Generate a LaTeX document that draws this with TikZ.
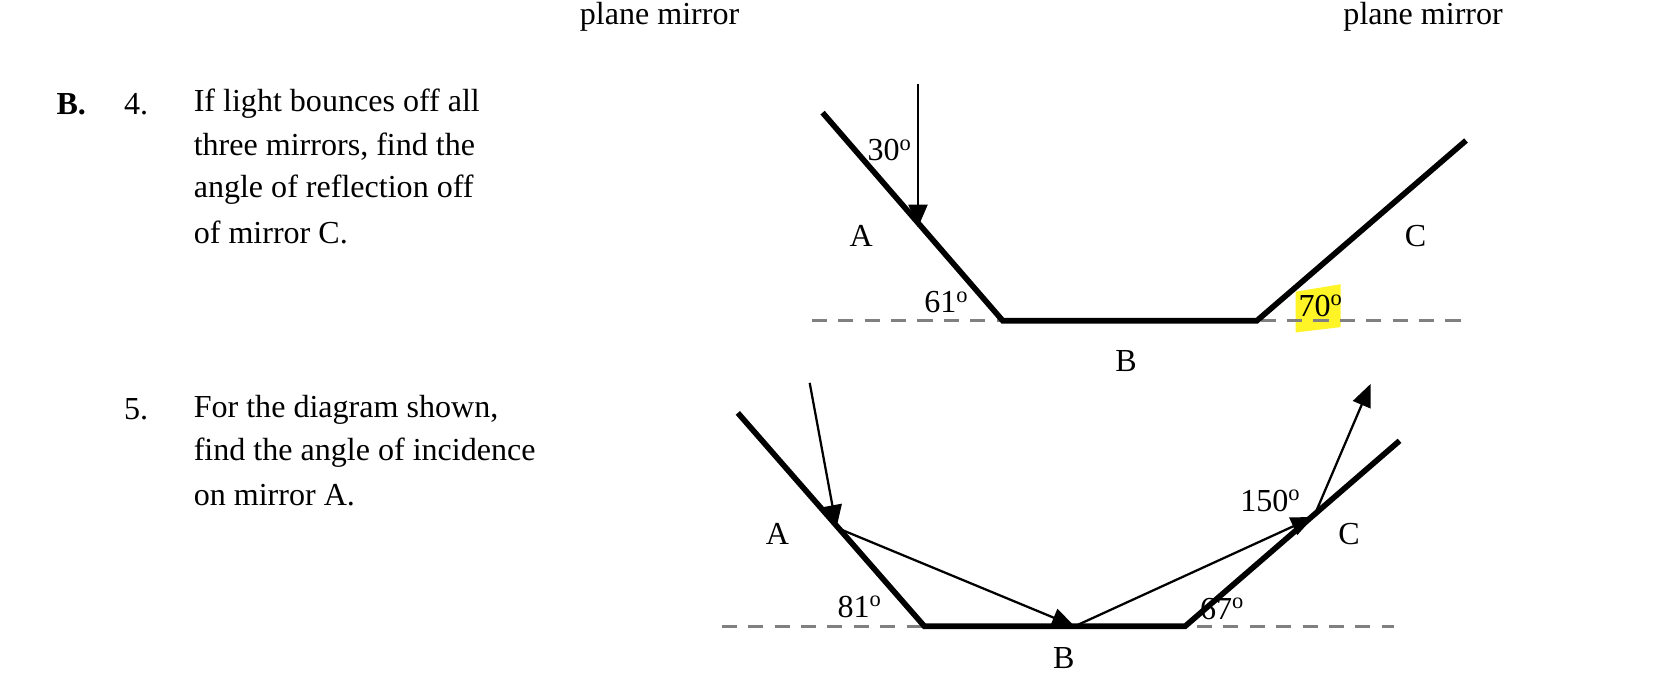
\documentclass[tikz,border=0pt]{standalone}
\usepackage{fontspec}
\setmainfont{Liberation Serif}
\usetikzlibrary{arrows.meta}
\begin{document}
\begin{tikzpicture}[x=0.01cm,y=-0.01cm,
  mirror/.style={line width=1.5pt},
  ray/.style={line width=0.6pt,-{Triangle[length=6pt,width=5pt]}},
  ref/.style={dashed,gray,line width=0.8pt,dash pattern=on 4pt off 3pt},
  lbl/.style={font=\fontsize{8.5}{10}\selectfont,inner sep=0pt},
  txt/.style={font=\fontsize{8.5}{10}\selectfont,inner sep=0pt,anchor=west}]
\useasboundingbox (0,0) rectangle (1560,647);
\node[lbl] (pm1) at (615,16) {plane mirror};
\node[lbl] (pm2) at (1327,16) {plane mirror};
\node[txt] (bq) at (52,97) {\textbf{B.}};
\node[txt] (q4) at (115,97) {4.};
\node[txt] (t1) at (180,97) {If light bounces off all};
\node[txt] (t2) at (180,137) {three mirrors, find the};
\node[txt] (t3) at (180,177) {angle of reflection off};
\node[txt] (t4) at (180,217) {of mirror C.};
\node[txt] (q5) at (115,382) {5.};
\node[txt] (s1) at (180,382) {For the diagram shown,};
\node[txt] (s2) at (180,422) {find the angle of incidence};
\node[txt] (s3) at (180,462) {on mirror A.};
% top diagram
\coordinate (a1) at (767,105); \coordinate (a2) at (935,299);
\coordinate (c1) at (1172,299); \coordinate (c2) at (1367,131);
\coordinate (dl) at (757,299); \coordinate (dr) at (1365,299);
\coordinate (in1) at (856,78); \coordinate (hitA) at (856,212);
\fill[yellow!85!white] (1208,272) -- (1250,265) -- (1250,305) -- (1208,310) -- cycle;
\draw[ref] (dl) -- (dr);
\draw[mirror] (a1) -- (a2) -- (c1) -- (c2);
\draw[ray] (in1) -- (hitA);
\node[lbl] (l30) at (830,140) {30\textsuperscript{o}};
\node[lbl] (lA) at (803,220) {A};
\node[lbl] (l61) at (883,282) {61\textsuperscript{o}};
\node[lbl] (l70) at (1232,285) {70\textsuperscript{o}};
\node[lbl] (lC) at (1320,220) {C};
\node[lbl] (lB) at (1050,337) {B};
% bottom diagram
\coordinate (A1) at (688,385); \coordinate (A2) at (862,584);
\coordinate (C1) at (1105,584); \coordinate (C2) at (1305,411);
\coordinate (DL) at (673,584); \coordinate (DR) at (1300,584);
\coordinate (r0) at (755,357); \coordinate (pA) at (780,492);
\coordinate (pB) at (1002,584); \coordinate (pC) at (1225,482);
\coordinate (r4) at (1278,358);
\draw[ref] (DL) -- (DR);
\draw[mirror] (A1) -- (A2) -- (C1) -- (C2);
\draw[ray] (r0) -- (pA);
\draw[ray] (pA) -- (pB);
\draw[ray] (pB) -- (pC);
\draw[ray] (pC) -- (r4);
\node[lbl] (m1) at (725,498) {A};
\node[lbl] (m2) at (802,566) {81\textsuperscript{o}};
\node[lbl] (m3) at (992,614) {B};
\node[lbl] (m4) at (1140,568) {67\textsuperscript{o}};
\node[lbl] (m5) at (1185,467) {150\textsuperscript{o}};
\node[lbl] (m6) at (1258,498) {C};
\end{tikzpicture}
\end{document}
